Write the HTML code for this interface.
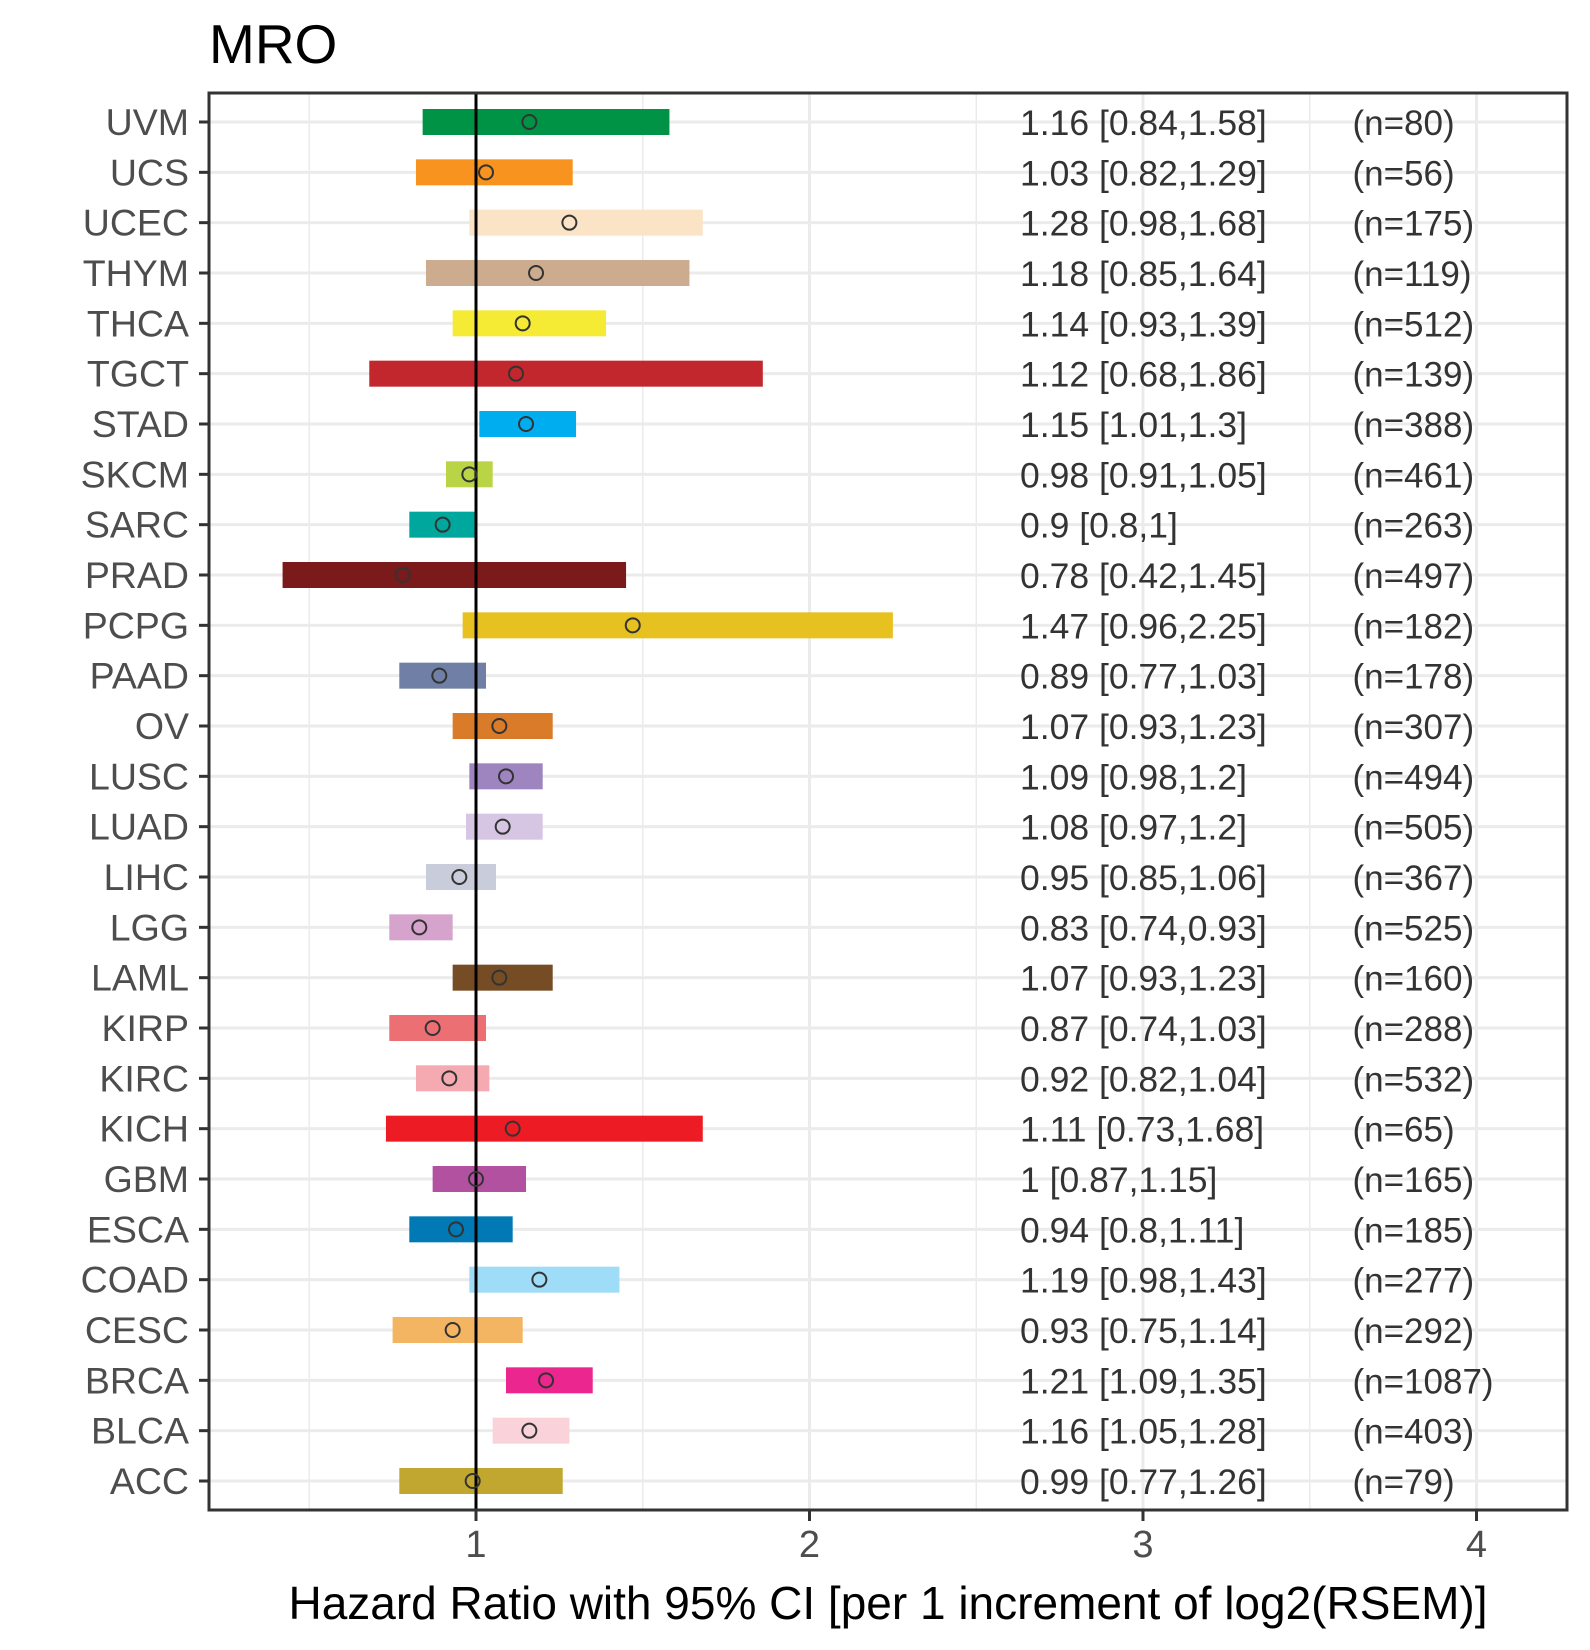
<!DOCTYPE html>
<html><head><meta charset="utf-8"><style>
body{margin:0;background:#fff}
svg{display:block;font-family:"Liberation Sans",sans-serif}
</style></head><body>
<svg id="chart" width="1590" height="1650" viewBox="0 0 1590 1650">
<text x="209" y="63" font-size="55" fill="#000">MRO</text>
<g id="grid"></g><g id="bars"></g>
<line id="refline" stroke="#000" stroke-width="3"></line>
<g id="pts"></g><g id="ann"></g><g id="axes"></g>
<text x="888" y="1619" font-size="46" text-anchor="middle" fill="#000">Hazard Ratio with 95% CI [per 1 increment of log2(RSEM)]</text>
</svg>
<script>
const cancers=["UVM","UCS","UCEC","THYM","THCA","TGCT","STAD","SKCM","SARC","PRAD","PCPG","PAAD","OV","LUSC","LUAD","LIHC","LGG","LAML","KIRP","KIRC","KICH","GBM","ESCA","COAD","CESC","BRCA","BLCA","ACC"];
const hr=[1.16,1.03,1.28,1.18,1.14,1.12,1.15,0.98,0.9,0.78,1.47,0.89,1.07,1.09,1.08,0.95,0.83,1.07,0.87,0.92,1.11,1,0.94,1.19,0.93,1.21,1.16,0.99];
const lo=[0.84,0.82,0.98,0.85,0.93,0.68,1.01,0.91,0.8,0.42,0.96,0.77,0.93,0.98,0.97,0.85,0.74,0.93,0.74,0.82,0.73,0.87,0.8,0.98,0.75,1.09,1.05,0.77];
const hi=[1.58,1.29,1.68,1.64,1.39,1.86,1.3,1.05,1,1.45,2.25,1.03,1.23,1.2,1.2,1.06,0.93,1.23,1.03,1.04,1.68,1.15,1.11,1.43,1.14,1.35,1.28,1.26];
const ciText=["1.16 [0.84,1.58]","1.03 [0.82,1.29]","1.28 [0.98,1.68]","1.18 [0.85,1.64]","1.14 [0.93,1.39]","1.12 [0.68,1.86]","1.15 [1.01,1.3]","0.98 [0.91,1.05]","0.9 [0.8,1]","0.78 [0.42,1.45]","1.47 [0.96,2.25]","0.89 [0.77,1.03]","1.07 [0.93,1.23]","1.09 [0.98,1.2]","1.08 [0.97,1.2]","0.95 [0.85,1.06]","0.83 [0.74,0.93]","1.07 [0.93,1.23]","0.87 [0.74,1.03]","0.92 [0.82,1.04]","1.11 [0.73,1.68]","1 [0.87,1.15]","0.94 [0.8,1.11]","1.19 [0.98,1.43]","0.93 [0.75,1.14]","1.21 [1.09,1.35]","1.16 [1.05,1.28]","0.99 [0.77,1.26]"];
const nText=["(n=80)","(n=56)","(n=175)","(n=119)","(n=512)","(n=139)","(n=388)","(n=461)","(n=263)","(n=497)","(n=182)","(n=178)","(n=307)","(n=494)","(n=505)","(n=367)","(n=525)","(n=160)","(n=288)","(n=532)","(n=65)","(n=165)","(n=185)","(n=277)","(n=292)","(n=1087)","(n=403)","(n=79)"];
const colors=["#009245","#F7931E","#FBE3C6","#CDAB8F","#F5EB35","#C1272D","#00AEEF","#B9D546","#00A79D","#7B1A1A","#E6C11F","#6F7FA6","#D97B29","#9E85C0","#D6C6E3","#C9CCDB","#D6A3CC","#754C24","#EC6F74","#F5A9B0","#ED1C24","#B1519F","#0079B5","#9EDCF7","#F4B563","#EC268F","#F9D2DA","#C1A72F"];
const xTicks=[1,2,3,4];
const xMinor=[0.5,1.5,2.5,3.5];
const annX=[3,4];
const NS="http://www.w3.org/2000/svg";
const L=209,R=1567,T=93,B=1510;
const X=v=>476+(v-1)*333.5;
const Y=i=>122+i*(1481-122)/(cancers.length-1);
function mk(tag,attrs,parent,txt){const e=document.createElementNS(NS,tag);for(const k in attrs)e.setAttribute(k,attrs[k]);if(txt!==undefined)e.textContent=txt;document.getElementById(parent).appendChild(e);return e;}
xMinor.forEach(v=>{const e=mk('line',{x1:X(v),x2:X(v),y1:T,y2:B,stroke:'#ebebeb','stroke-width':1.5},'grid');

});
xTicks.forEach(v=>{const e=mk('line',{x1:X(v),x2:X(v),y1:T,y2:B,stroke:'#ebebeb','stroke-width':3},'grid');

});
cancers.forEach((c,i)=>{const e=mk('line',{x1:L,x2:R,y1:Y(i),y2:Y(i),stroke:'#ebebeb','stroke-width':3},'grid');

});
cancers.forEach((c,i)=>{
const b=mk('rect',{x:X(lo[i]),y:Y(i)-13,width:X(hi[i])-X(lo[i]),height:26,fill:colors[i]},'bars');


const p=mk('circle',{cx:X(hr[i]),cy:Y(i),r:7,fill:'none',stroke:'#333','stroke-width':2},'pts');


const a=mk('text',{x:X(annX[0])-123,y:Y(i)+13,'font-size':35.5,fill:'#333'},'ann',ciText[i]);


const n=mk('text',{x:X(annX[1])-124,y:Y(i)+13,'font-size':35,fill:'#333'},'ann',nText[i]);


const yl=mk('text',{x:189,y:Y(i)+13,'font-size':37.5,fill:'#4d4d4d','text-anchor':'end'},'axes',c);


const yt=mk('line',{x1:199,x2:L,y1:Y(i),y2:Y(i),stroke:'#333','stroke-width':3},'axes');


});
const rl=document.getElementById('refline');
rl.setAttribute('x1',X(1));rl.setAttribute('x2',X(1));rl.setAttribute('y1',T);rl.setAttribute('y2',B);
xTicks.forEach(v=>{
const t=mk('line',{x1:X(v),x2:X(v),y1:B,y2:B+11,stroke:'#333','stroke-width':3},'axes');


const tl=mk('text',{x:X(v),y:B+47,'font-size':38,fill:'#4d4d4d','text-anchor':'middle'},'axes',String(v));


});
const border=mk('rect',{x:L,y:T,width:R-L,height:B-T,fill:'none',stroke:'#333','stroke-width':3},'axes');


</script>
</body></html>
